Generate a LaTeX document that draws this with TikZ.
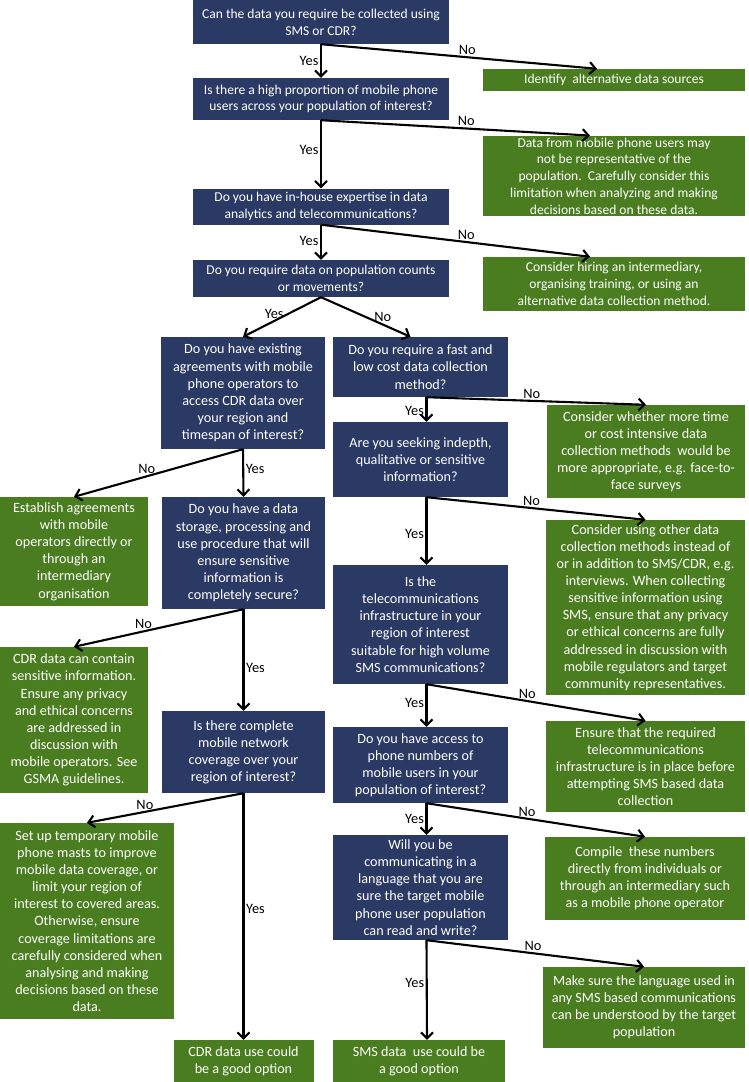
\documentclass[tikz,border=0pt]{standalone}
\usepackage{fontspec}
\setmainfont{Carlito}
\usetikzlibrary{arrows.meta}
\definecolor{qnavy}{RGB}{43,58,101}
\definecolor{agreen}{RGB}{74,125,32}

\begin{document}
\begin{tikzpicture}[x=1bp, y=-1bp,
  qbox/.style={fill=qnavy, text=white, align=center, inner sep=2bp, font=\fontsize{13.6}{16.8}\selectfont},
  abox/.style={qbox, fill=agreen},
  side/.style={font=\fontsize{14.2}{17.2}\selectfont},
  sz/.style 2 args={minimum width=#1bp, minimum height=#2bp},
  flow/.style={line width=2.1bp, -{Straight Barb[length=6bp,width=12bp]}},
  lbl/.style={font=\fontsize{14.4}{17}\selectfont, inner sep=1.5bp}]
\useasboundingbox (0,0) rectangle (749,1082);
% Main column
\node[qbox, sz={256}{44}] (q1) at (321,22) {Can the data you require be collected using\\SMS or CDR?};
\node[abox, sz={262}{22}] (g1) at (614,80) {Identify\ \ alternative data sources};
\node[qbox, sz={256}{42}] (q2) at (321,99) {Is there a high proportion of mobile phone\\users across your population of interest?};
\node[abox, sz={262}{72}] (g2) at (614,176) {Data from mobile phone users may\\not be representative of the\\population.\ \ Carefully consider this\\limitation when analyzing and making\\decisions based on these data.};
\node[qbox, sz={256}{36}] (q3) at (321,206.5) {Do you have in-house expertise in data\\analytics and telecommunications?};
\node[abox, sz={262}{54}] (g3) at (614,284) {Consider hiring an intermediary,\\organising training, or using an\\alternative data collection method.};
\node[qbox, sz={256}{37}] (q4) at (321,278.5) {Do you require data on population counts\\or movements?};
\draw[flow] (q1.south) -- node[lbl, left, pos=.5]{Yes} (q2.north);
\draw[flow] (q1.south) -- node[lbl, above, pos=.53]{No} ([xshift=-17bp]g1.north);
\draw[flow] (q2.south) -- node[lbl, left, pos=.44]{Yes} (q3.north);
\draw[flow] (q2.south) -- node[lbl, above, pos=.54]{No} ([xshift=-24bp]g2.north);
\draw[flow] (q3.south) -- node[lbl, left, pos=.45]{Yes} (q4.north);
\draw[flow] (q3.south) -- node[lbl, above, pos=.54]{No} ([xshift=-24bp]g3.north);
% Left branch: CDR
\node[qbox, side, sz={164}{112}] (q5) at (243,393) {Do you have existing\\agreements with mobile\\phone operators to\\access CDR data over\\your region and\\timespan of interest?};
\node[abox, side, sz={148}{109}] (g5) at (74,551.5) {Establish agreements\\with mobile\\operators directly or\\through an\\intermediary\\organisation};
\node[qbox, side, sz={163}{112}] (q7) at (243.5,553) {Do you have a data\\storage, processing and\\use procedure that will\\ensure sensitive\\information is\\completely secure?};
\node[abox, side, sz={148}{146}] (g7) at (74,720) {CDR data can contain\\sensitive information.\\Ensure any privacy\\and ethical concerns\\are addressed in\\discussion with\\mobile operators. See\\GSMA guidelines.};
\node[qbox, side, sz={163}{82}] (q8) at (243.5,752) {Is there complete\\mobile network\\coverage over your\\region of interest?};
\node[abox, side, sz={174}{196}] (g8) at (87,921) {Set up temporary mobile\\phone masts to improve\\mobile data coverage, or\\limit your region of\\interest to covered areas.\\Otherwise, ensure\\coverage limitations are\\carefully considered when\\analysing and making\\decisions based on these\\data.};
\node[abox, side, sz={140}{42}] (e1) at (243.5,1061) {CDR data use could\\be a good option};
\draw[flow] (q4.south) -- node[lbl, above, pos=.6]{Yes} (q5.north);
\draw[flow] (q5.south) -- node[lbl, above, pos=.57]{No} (g5.north);
\draw[flow] (q5.south) -- node[lbl, right, pos=.41]{Yes} (q7.north);
\draw[flow] (q7.south) -- node[lbl, above, pos=.59]{No} (g7.north);
\draw[flow] (q7.south) -- node[lbl, right, pos=.58]{Yes} (q8.north);
\draw[flow] (q8.south) -- node[lbl, above, pos=.63]{No} (g8.north);
\draw[flow] (q8.south) -- node[lbl, right, pos=.47]{Yes} (e1.north);
% Right branch: SMS
\node[qbox, side, sz={175}{60}] (q6) at (420.5,367) {Do you require a fast and\\low cost data collection\\method?};
\node[abox, side, sz={198}{93}] (g6) at (646,451.5) {Consider whether more time\\or cost intensive data\\collection methods\ \ would be\\more appropriate, e.g. face-to-\\face surveys};
\node[qbox, side, sz={175}{75}] (q9) at (420.5,459.5) {Are you seeking indepth,\\qualitative or sensitive\\information?};
\node[abox, side, sz={199}{175}] (g9) at (645.5,607.5) {Consider using other data\\collection methods instead of\\or in addition to SMS/CDR, e.g.\\interviews. When collecting\\sensitive information using\\SMS, ensure that any privacy\\or ethical concerns are fully\\addressed in discussion with\\mobile regulators and target\\community representatives.};
\node[qbox, side, sz={175}{119}] (q10) at (420.5,624.5) {Is the\\telecommunications\\infrastructure in your\\region of interest\\suitable for high volume\\SMS communications?};
\node[abox, side, sz={199}{91}] (g10) at (645.5,766.5) {Ensure that the required\\telecommunications\\infrastructure is in place before\\attempting SMS based data\\collection};
\node[qbox, side, sz={175}{76}] (q11) at (420.5,765) {Do you have access to\\phone numbers of\\mobile users in your\\population of interest?};
\node[abox, side, sz={200}{83}] (g11) at (645,878.5) {Compile\ \ these numbers\\directly from individuals or\\through an intermediary such\\as a mobile phone operator};
\node[qbox, side, sz={175}{105}] (q12) at (420.5,887.5) {Will you be\\communicating in a\\language that you are\\sure the target mobile\\phone user population\\can read and write?};
\node[abox, side, sz={202}{81}] (g12) at (644,1007.5) {Make sure the language used in\\any SMS based communications\\can be understood by the target\\population};
\node[abox, side, sz={172}{42}] (e2) at (419,1061) {SMS data\ \ use could be\\a good option};
\draw[flow] (q4.south) -- node[lbl, above, pos=.69]{No} ([xshift=-10bp]q6.north);
\draw[flow] ([xshift=6bp]q6.south) -- node[lbl, left, pos=.55]{Yes} ([xshift=6bp]q9.north);
\draw[flow] ([xshift=6bp]q6.south) -- node[lbl, above, pos=.48]{No} (g6.north);
\draw[flow] ([xshift=6bp]q9.south) -- node[lbl, left, pos=.54]{Yes} ([xshift=6bp]q10.north);
\draw[flow] ([xshift=6bp]q9.south) -- node[lbl, above, pos=.48]{No} (g9.north);
\draw[flow] ([xshift=6bp]q10.south) -- node[lbl, left, pos=.44]{Yes} ([xshift=6bp]q11.north);
\draw[flow] ([xshift=6bp]q10.south) -- node[lbl, above, pos=.46]{No} (g10.north);
\draw[flow] ([xshift=6bp]q11.south) -- node[lbl, left, pos=.5]{Yes} ([xshift=6bp]q12.north);
\draw[flow] ([xshift=6bp]q11.south) -- node[lbl, above, pos=.46]{No} (g11.north);
\draw[flow] ([xshift=6bp]q12.south) -- node[lbl, left, pos=.43]{Yes} ([xshift=8bp]e2.north);
\draw[flow] ([xshift=6bp]q12.south) -- node[lbl, above, pos=.49]{No} (g12.north);
\end{tikzpicture}
\end{document}
